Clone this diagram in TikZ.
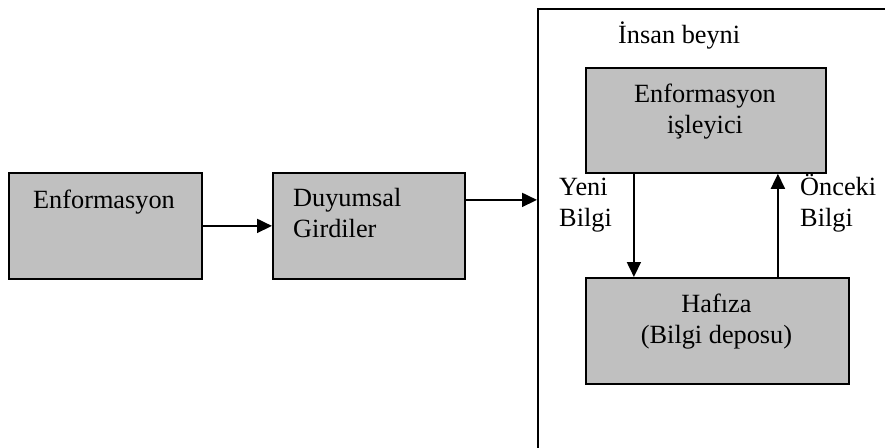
\documentclass[tikz,border=0pt]{standalone}
\usepackage{fontspec}
\setmainfont{Liberation Serif}
\usetikzlibrary{arrows.meta}
\definecolor{boxgray}{HTML}{C0C0C0}
\begin{document}
\begin{tikzpicture}[x=1pt,y=-1pt,
  box/.style={draw, line width=1.8pt, fill=boxgray, inner sep=0pt, anchor=north west},
  frame/.style={draw, line width=1.8pt, inner sep=0pt, anchor=north west},
  lbl/.style={inner sep=0pt, font=\fontsize{26.3}{31}\selectfont},
  arr/.style={line width=1.8pt, -{Triangle[length=15pt,width=14pt]}}]
  \clip (0,0) rectangle (885,447);

  % outer frame of the brain (runs off the right and bottom edges)
  \node[frame, minimum width=420pt, minimum height=480pt] (brain) at (537,8) {};
  \node[lbl, anchor=base west] (brainlbl) at (618,43) {İnsan beyni};

  % boxes
  \node[box, minimum width=193pt, minimum height=106pt] (enf) at (8,172) {};
  \node[box, minimum width=192pt, minimum height=106pt] (duy) at (272,172) {};
  \node[box, minimum width=240pt, minimum height=105pt] (proc) at (585,67) {};
  \node[box, minimum width=263pt, minimum height=106pt] (mem) at (585,277) {};

  % box texts (base anchor sits on the last line)
  \node[lbl, anchor=base] (enftxt) at (104,208) {Enformasyon};
  \node[lbl, anchor=base west, align=left] (duytxt) at (293,237) {Duyumsal\\Girdiler};
  \node[lbl, anchor=base, align=center] (proctxt) at (705,133) {Enformasyon\\işleyici};
  \node[lbl, anchor=base, align=center] (memtxt) at (716.5,343) {Hafıza\\(Bilgi deposu)};

  % connectors
  \draw[arr] (enf) -- (duy);
  \coordinate (duyout) at ([yshift=26pt]duy.east);
  \draw[arr] (duyout) -- (duyout -| brain.west);
  \coordinate (dnstart) at ([xshift=-72pt]proc.south);
  \coordinate (upend) at ([xshift=72pt]proc.south);
  \draw[arr] (dnstart) -- (dnstart |- mem.north);
  \draw[arr] (upend |- mem.north) -- (upend);

  % connector labels
  \node[lbl, anchor=base west, align=left] (yeni) at (559,226) {Yeni\\Bilgi};
  \node[lbl, anchor=base west, align=left] (onceki) at (800,226) {Önceki\\Bilgi};
\end{tikzpicture}
\end{document}
